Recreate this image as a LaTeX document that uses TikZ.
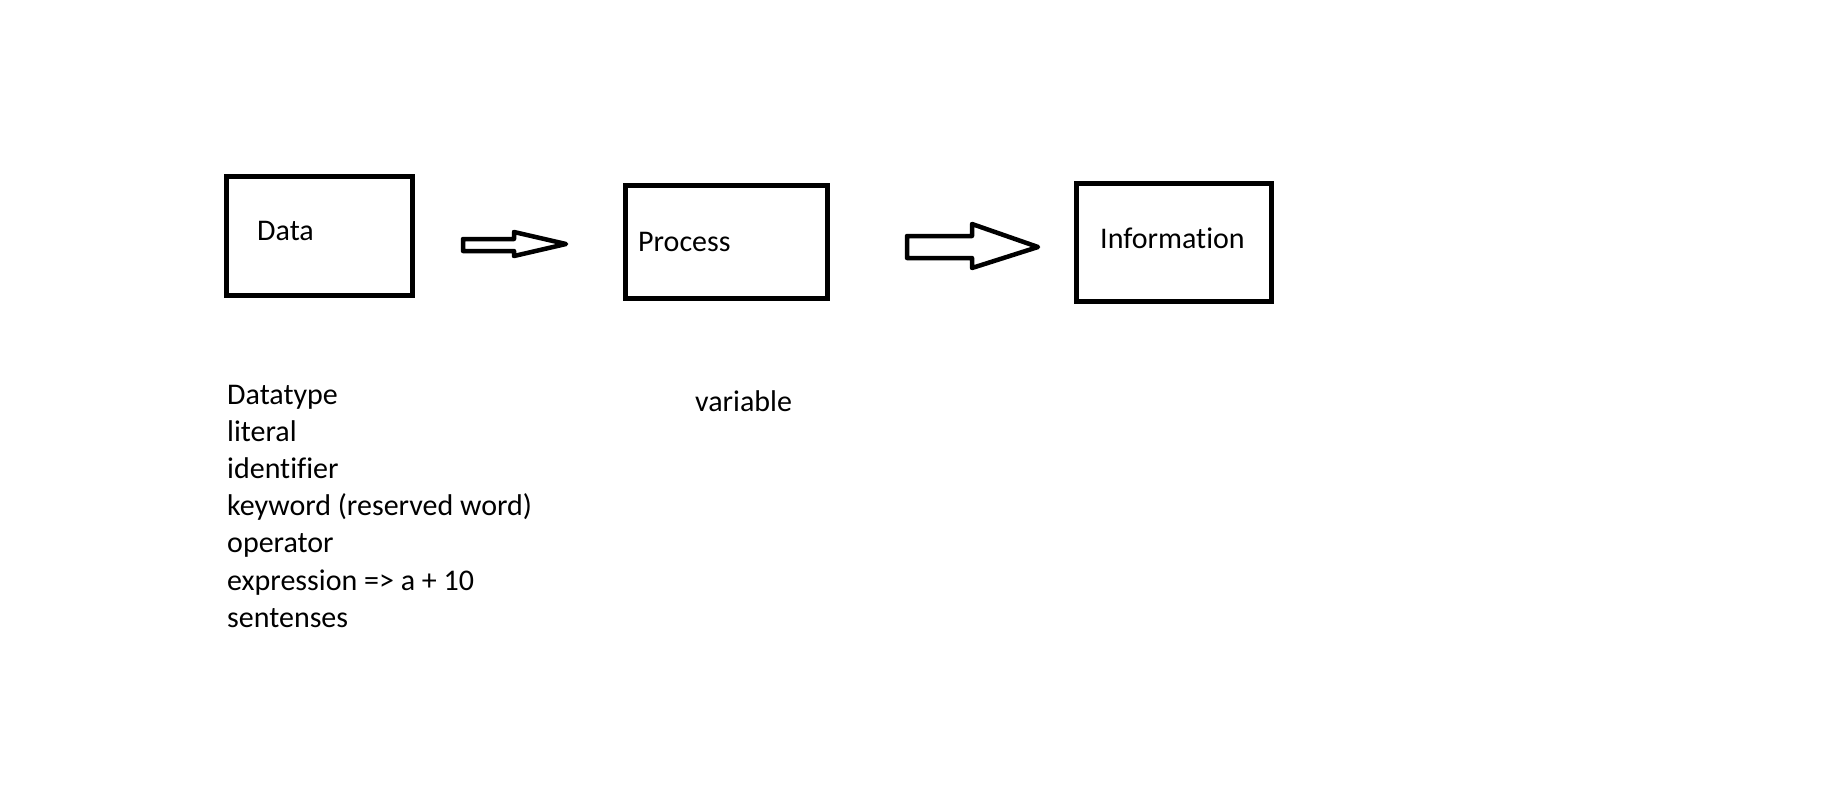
\documentclass[tikz,border=0pt]{standalone}
\usepackage{fontspec}
\setmainfont{Carlito}[Ligatures={NoCommon}]
\begin{document}
\begin{tikzpicture}[x=1pt,y=-1pt,
  box/.style={draw=black,line width=5pt,line join=miter},
  blockarrow/.style={draw=black,line width=4.5pt,line join=round,fill=white},
  lbl/.style={inner sep=0pt,anchor=base west,font=\fontsize{30}{36}\selectfont}]
  % canvas
  \useasboundingbox (0,0) rectangle (1844,796);
  \fill[white] (0,0) rectangle (1844,796);

  % three stages
  \draw[box] (226,176) rectangle (412,295);
  \draw[box] (625,185) rectangle (827,298);
  \draw[box] (1076,183) rectangle (1271,301);
  \node[lbl] (data) at (257,240) {Data};
  \node[lbl] (process) at (638,251) {Process};
  \node[lbl] (info) at (1100,248) {Information};

  % block arrows between stages
  \draw[blockarrow] (463,239) -- (514,239) -- (514,232) -- (566,244)
    -- (514,256) -- (514,251) -- (463,251) -- cycle;
  \draw[blockarrow] (907,236) -- (972,236) -- (972,224) -- (1038,247)
    -- (972,268) -- (972,258) -- (907,258) -- cycle;

  % notes under the stages
  \foreach \t [count=\i from 0] in {Datatype,literal,identifier,
      keyword (reserved word),operator,expression => a + 10,sentenses}
    \node[lbl] (note\i) at (227,404+37.2*\i) {\t};
  \node[lbl] (var) at (695,411) {variable};
\end{tikzpicture}
\end{document}
